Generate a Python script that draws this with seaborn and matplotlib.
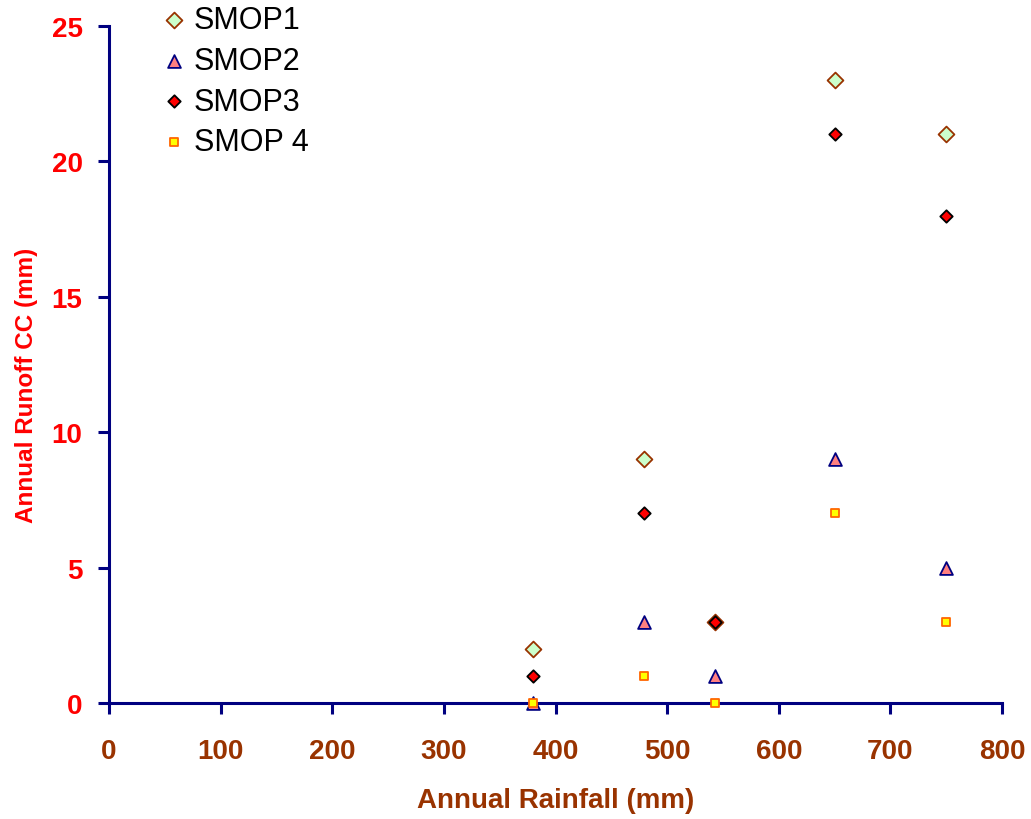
import pandas as pd
import seaborn as sns
import matplotlib.pyplot as plt

# 数据
rainfall = [380, 479, 543, 650, 750]
smop1 = [2, 9, 3, 23, 21]
smop2 = [0, 3, 1, 9, 5]
smop3 = [1, 7, 3, 21, 18]
smop4 = [0, 1, 0, 7, 3]

navy = '#000080'
brown = '#993300'

sns.set_style("ticks")
plt.rcParams['font.family'] = ['Liberation Sans', 'DejaVu Sans']

fig = plt.figure(figsize=(10.31, 8.2), dpi=100)
ax = fig.add_axes([0.1057, 0.1415, 0.8662, 0.8255])

series = [
    ("SMOP1", smop1, 'D', '#CCFFCC', brown, 65),
    ("SMOP2", smop2, '^', '#FF8080', navy, 85),
    ("SMOP3", smop3, 'D', '#FF0000', 'black', 40),
    ("SMOP 4", smop4, 's', '#FFFF00', '#FF6600', 40),
]
for name, vals, mk, fc, ec, size in series:
    df = pd.DataFrame({'rain': rainfall, 'runoff': vals})
    sns.scatterplot(data=df, x='rain', y='runoff', marker=mk, color=fc,
                    edgecolor=ec, linewidth=1.3, s=size, label=name, ax=ax,
                    clip_on=False, zorder=3)

ax.set_xlim(0, 800)
ax.set_ylim(0, 25)
ax.set_xticks(range(0, 801, 100))
ax.set_yticks(range(0, 26, 5))

for side in ['top', 'right']:
    ax.spines[side].set_visible(False)
for side in ['left', 'bottom']:
    ax.spines[side].set_color(navy)
    ax.spines[side].set_linewidth(2.2)
ax.tick_params(axis='both', colors=navy, width=2.2, length=8)
ax.tick_params(axis='x', labelcolor=brown, labelsize=20, pad=17)
ax.tick_params(axis='y', labelcolor='red', labelsize=20, pad=11)
for lab in ax.get_xticklabels() + ax.get_yticklabels():
    lab.set_fontweight('bold')

ax.set_xlabel("Annual Rainfall (mm)", color=brown, fontsize=20, fontweight='bold', labelpad=17)
ax.set_ylabel("Annual Runoff CC (mm)", color='red', fontsize=17.5, fontweight='bold')
ax.yaxis.set_label_coords(-0.08, 0.47)

leg = ax.legend(loc='upper left', bbox_to_anchor=(0.045, 1.049), frameon=False,
                fontsize=22, handlelength=0.8, handletextpad=0.27, labelspacing=0.35,
                borderaxespad=0, labelcolor='black')

plt.savefig('out.png', dpi=100)
